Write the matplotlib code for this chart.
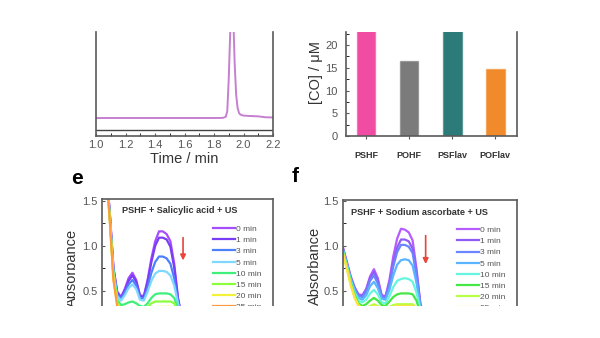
import matplotlib
matplotlib.use("Agg")
import matplotlib.pyplot as plt
from matplotlib.patches import Rectangle

plt.rcParams['font.family'] = ['Liberation Sans', 'DejaVu Sans']

# chromatogram (top left)
time_min = [1.00, 1.20, 1.40, 1.60, 1.80, 1.86, 1.88, 1.89, 1.90, 1.91, 1.92, 1.93,
            1.94, 1.95, 1.96, 1.97, 1.98, 2.00, 2.05, 2.10, 2.15, 2.20]
signal_co = [17.3, 17.3, 17.3, 17.3, 17.3, 17.4, 18.5, 24, 55, 100, 135, 118,
             70, 40, 27, 22, 20.5, 19.6, 19.2, 18.9, 18.0, 17.8]
signal_blank = [5.8] * len(time_min)

# CO release (top right)
compounds = ['PSHF', 'POHF', 'PSFlav', 'POFlav']
co_um = [28.0, 16.5, 27.0, 14.7]
bar_colors = ['#f04ca3', '#7b7b7b', '#2d7b78', '#f08a2a']

# UV-vis spectra (bottom)
wavelength = [250, 260, 270, 280, 290, 300, 310, 320, 330, 340, 350, 360,
              370, 380, 390, 400, 410, 420, 430, 440, 450, 460, 470, 480]
times = ['0 min', '1 min', '3 min', '5 min', '10 min', '15 min', '20 min', '25 min']

abs_salicylic = [
    [2.4, 1.9, 1.40, 0.76, 0.49, 0.43, 0.52, 0.64, 0.70, 0.62, 0.45, 0.44, 0.62, 0.86, 1.05, 1.16, 1.16, 1.13, 1.05, 0.80, 0.42, 0.20, 0.10, 0.06],
    [2.4, 1.9, 1.39, 0.75, 0.48, 0.42, 0.50, 0.61, 0.67, 0.60, 0.44, 0.43, 0.60, 0.82, 1.00, 1.09, 1.09, 1.07, 0.99, 0.76, 0.41, 0.20, 0.10, 0.06],
    [2.4, 1.9, 1.37, 0.73, 0.46, 0.41, 0.48, 0.57, 0.62, 0.56, 0.42, 0.41, 0.54, 0.70, 0.82, 0.88, 0.88, 0.86, 0.80, 0.64, 0.38, 0.19, 0.10, 0.06],
    [2.4, 1.9, 1.36, 0.71, 0.44, 0.39, 0.45, 0.53, 0.57, 0.52, 0.40, 0.39, 0.49, 0.61, 0.69, 0.72, 0.72, 0.71, 0.67, 0.56, 0.36, 0.18, 0.10, 0.06],
    [2.4, 1.9, 1.34, 0.68, 0.40, 0.34, 0.35, 0.37, 0.38, 0.36, 0.33, 0.32, 0.36, 0.42, 0.46, 0.47, 0.47, 0.47, 0.46, 0.42, 0.30, 0.16, 0.09, 0.06],
    [2.4, 1.9, 1.33, 0.66, 0.37, 0.30, 0.30, 0.31, 0.32, 0.31, 0.29, 0.29, 0.32, 0.36, 0.38, 0.38, 0.38, 0.38, 0.38, 0.36, 0.27, 0.15, 0.08, 0.05],
    [2.4, 1.9, 1.32, 0.64, 0.35, 0.27, 0.26, 0.26, 0.27, 0.26, 0.25, 0.25, 0.27, 0.30, 0.31, 0.32, 0.32, 0.32, 0.32, 0.30, 0.23, 0.13, 0.07, 0.05],
    [2.4, 1.9, 1.31, 0.62, 0.33, 0.25, 0.24, 0.24, 0.24, 0.24, 0.23, 0.23, 0.24, 0.26, 0.27, 0.28, 0.28, 0.28, 0.28, 0.26, 0.20, 0.12, 0.07, 0.05],
]
abs_ascorbate = [
    [0.98, 0.82, 0.66, 0.54, 0.46, 0.45, 0.52, 0.66, 0.74, 0.64, 0.45, 0.44, 0.62, 0.88, 1.08, 1.19, 1.18, 1.15, 1.06, 0.75, 0.36, 0.18, 0.10, 0.07],
    [0.97, 0.81, 0.65, 0.53, 0.45, 0.44, 0.51, 0.64, 0.71, 0.61, 0.44, 0.43, 0.58, 0.81, 0.98, 1.07, 1.07, 1.05, 0.97, 0.70, 0.35, 0.18, 0.10, 0.07],
    [0.96, 0.80, 0.64, 0.52, 0.44, 0.43, 0.49, 0.61, 0.67, 0.58, 0.43, 0.42, 0.56, 0.77, 0.93, 1.01, 1.01, 0.99, 0.92, 0.67, 0.34, 0.17, 0.10, 0.07],
    [0.95, 0.79, 0.63, 0.50, 0.42, 0.40, 0.45, 0.55, 0.60, 0.53, 0.41, 0.40, 0.51, 0.67, 0.79, 0.84, 0.85, 0.84, 0.78, 0.59, 0.32, 0.16, 0.09, 0.06],
    [0.94, 0.78, 0.61, 0.48, 0.39, 0.37, 0.40, 0.47, 0.51, 0.46, 0.37, 0.36, 0.44, 0.54, 0.61, 0.63, 0.64, 0.63, 0.60, 0.48, 0.29, 0.15, 0.09, 0.06],
    [0.93, 0.76, 0.59, 0.45, 0.36, 0.33, 0.35, 0.39, 0.42, 0.39, 0.34, 0.33, 0.38, 0.43, 0.46, 0.47, 0.47, 0.47, 0.46, 0.39, 0.25, 0.14, 0.08, 0.06],
    [0.92, 0.75, 0.57, 0.43, 0.34, 0.31, 0.31, 0.33, 0.35, 0.33, 0.31, 0.30, 0.32, 0.34, 0.35, 0.35, 0.35, 0.35, 0.35, 0.31, 0.22, 0.13, 0.08, 0.05],
    [0.91, 0.74, 0.56, 0.42, 0.33, 0.30, 0.30, 0.31, 0.33, 0.31, 0.30, 0.29, 0.30, 0.32, 0.33, 0.33, 0.33, 0.33, 0.33, 0.30, 0.21, 0.12, 0.08, 0.05],
]
colors_e = ['#a64dff', '#7a3df5', '#4d80ff', '#7fd8ff', '#3ef07a', '#8cff3c', '#f5f03a', '#ff9a40']
colors_f = ['#b45cff', '#8f5cf5', '#6a86ff', '#5ab4ff', '#66f5e0', '#44e844', '#b8ff44', '#ffe040']

GRAY = '#555555'
SPINE = '#5a5a5a'

fig = plt.figure(figsize=(6, 3.38), dpi=100)

def px(l, t, r, b):
    return [l / 600, 1 - b / 338, (r - l) / 600, (b - t) / 338]

def style(ax):
    for s in ax.spines.values():
        s.set_color(SPINE)
        s.set_linewidth(1.2)
    ax.tick_params(colors=SPINE, labelcolor=GRAY, labelsize=8)

# --- chromatogram ---
ax1 = fig.add_axes(px(96, 32, 273, 136))
style(ax1)
ax1.plot(time_min, signal_blank, color='#444444', lw=1.0)
ax1.plot(time_min, signal_co, color='#c77fd1', lw=1.4)
ax1.set_xlim(1.0, 2.2)
ax1.set_ylim(0, 100)
ax1.spines['top'].set_visible(False)
ax1.set_yticks([])
ax1.set_xticks([1.0, 1.2, 1.4, 1.6, 1.8, 2.0, 2.2])
ax1.set_xticks([1.1, 1.3, 1.5, 1.7, 1.9, 2.1], minor=True)
ax1.tick_params(axis='x', which='both', direction='in', length=2.5, pad=3)
ax1.set_xlabel('Time / min', fontsize=10.5, color='#333333', labelpad=1)

# --- CO bars ---
ax2 = fig.add_axes(px(346, 32, 517, 136))
style(ax2)
ax2.bar(range(len(compounds)), co_um, width=0.44, color=bar_colors,
        edgecolor=[c + '88' for c in bar_colors], linewidth=1.0)
ax2.set_xlim(-0.465, 3.51)
ax2.set_ylim(0, 22.86)
ax2.spines['top'].set_visible(False)
ax2.set_yticks([0, 5, 10, 15, 20])
ax2.set_yticks([2.5, 7.5, 12.5, 17.5, 22.5], minor=True)
ax2.tick_params(axis='y', which='both', direction='in', length=2.5, pad=6)
ax2.set_xticks(range(len(compounds)))
ax2.set_xticklabels(compounds, fontsize=6.5, fontweight='bold', color='#333333')
ax2.tick_params(axis='x', direction='out', length=2, pad=9)
ax2.set_ylabel('[CO] / μM', fontsize=10.5, color='#333333')
ax2.yaxis.set_label_coords(-0.135, 0.615)

# --- UV-vis panels ---
def spectra(ax, data, colors, title, label_xy, legend_xy):
    style(ax)
    for vals, col, lab in zip(data, colors, times):
        ax.plot(wavelength, vals, color=col, lw=1.6, label=lab)
    ax.set_xlim(250, 700)
    ax.spines['bottom'].set_visible(False)
    ax.set_xticks([])
    ax.set_yticks([0.5, 1.0, 1.5])
    ax.set_yticks([0.75, 1.25], minor=True)
    ax.tick_params(axis='y', which='both', direction='in', length=2.5, pad=3)
    ax.set_ylabel('Absorbance', fontsize=10.5, color='#333333')
    ax.yaxis.set_label_coords(*label_xy)
    ax.text(title[1], title[2], title[0], transform=ax.transAxes, fontsize=6.6,
            fontweight='bold', color='#333333', va='center', ha='left')
    ax.legend(loc='upper left', bbox_to_anchor=legend_xy, frameon=False,
              fontsize=6, labelcolor=GRAY, handlelength=2.65, handletextpad=0.1,
              labelspacing=0.4, borderpad=0, borderaxespad=0)

ax3 = fig.add_axes(px(102, 199, 273, 306))
ax3.set_ylim(0.33, 1.52)
spectra(ax3, abs_salicylic, colors_e, ('PSHF + Salicylic acid + US', 0.117, 0.888),
        (-0.134, 0.355), (0.649, 0.755))
ax3.annotate('', xy=(0.474, 0.40), xytext=(0.474, 0.665), xycoords='axes fraction',
             arrowprops=dict(arrowstyle='-|>', color='#e8453c', lw=1.2, mutation_scale=8))

ax4 = fig.add_axes(px(343, 200, 517, 306))
ax4.set_ylim(0.33, 1.51)
spectra(ax4, abs_ascorbate, colors_f, ('PSHF + Sodium ascorbate + US', 0.044, 0.884),
        (-0.121, 0.377), (0.655, 0.752))
ax4.annotate('', xy=(0.475, 0.37), xytext=(0.475, 0.69), xycoords='axes fraction',
             arrowprops=dict(arrowstyle='-|>', color='#e8453c', lw=1.2, mutation_scale=8))

fig.text(77 / 600, 1 - 178 / 338, 'e', fontsize=15, fontweight='bold', ha='center', va='center')
fig.text(295 / 600, 1 - 177 / 338, 'f', fontsize=15, fontweight='bold', ha='center', va='center')

# the source picture is cropped at the bottom and at the left of panel e
fig.add_artist(Rectangle((0, 0), 1, 1 - 306 / 338, transform=fig.transFigure,
                         facecolor='white', edgecolor='none', zorder=100))
fig.add_artist(Rectangle((0, 0), 67 / 600, 1 - 215 / 338, transform=fig.transFigure,
                         facecolor='white', edgecolor='none', zorder=100))

fig.savefig('out.png', dpi=100)
